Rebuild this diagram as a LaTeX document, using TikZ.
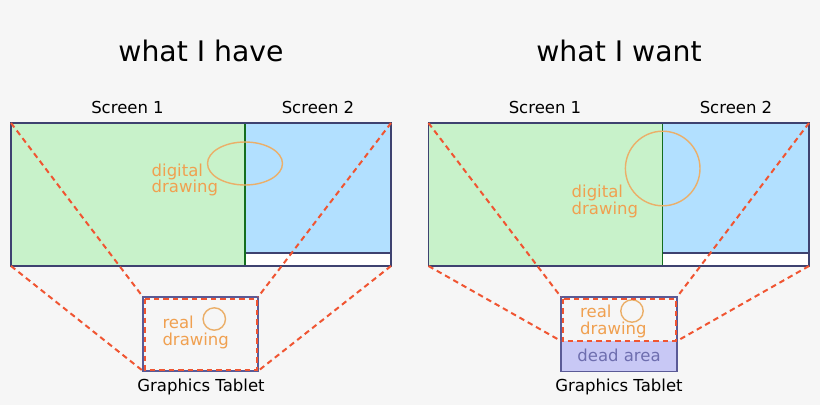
\documentclass[tikz,border=0pt]{standalone}
\usepackage{fontspec}
\setmainfont{DejaVu Sans}
\definecolor{bg}{RGB}{246,246,246}
\definecolor{scrgreen}{RGB}{200,242,202}
\definecolor{scrblue}{RGB}{178,224,255}
\definecolor{frame}{RGB}{62,66,112}
\definecolor{divgreen}{RGB}{20,110,30}
\definecolor{tabframe}{RGB}{90,90,150}
\definecolor{orng}{RGB}{240,160,80}
\definecolor{orngline}{RGB}{235,175,105}
\definecolor{reddash}{RGB}{240,85,50}
\definecolor{deadfill}{RGB}{200,200,245}
\definecolor{deadtext}{RGB}{110,110,175}
\tikzset{
  title/.style={font=\fontsize{28.3}{30}\selectfont, anchor=base, inner sep=0},
  lbl/.style={font=\fontsize{16.5}{18}\selectfont, anchor=base, inner sep=0},
  olbl/.style={font=\fontsize{16.5}{18}\selectfont, anchor=base west, inner sep=0, text=orng},
  frameline/.style={draw=frame, line width=1.7pt},
  proj/.style={draw=reddash, line width=2pt, dash pattern=on 5.5pt off 4pt},
  sketch/.style={draw=orngline, line width=1.4pt},
}
\begin{document}
\begin{tikzpicture}[x=1pt,y=-1pt]
\fill[bg] (0,0) rectangle (820,405);
\useasboundingbox (0,0) rectangle (820,405);

% ---------- left panel ----------
\node[title] (t1) at (201,61) {what I have};
\node[lbl] (l1s1) at (127.5,113) {Screen 1};
\node[lbl] (l1s2) at (318,113) {Screen 2};

\coordinate (LTL) at (11,123);
\coordinate (LTR) at (391,123);
\coordinate (LBL) at (11,266);
\coordinate (LBR) at (391,266);
\fill[scrgreen] (11,123) rectangle (245,266);
\fill[scrblue] (245,123) rectangle (391,253);
\fill[white] (245,253) rectangle (391,266);
\draw[frameline] (245,253) -- (391,253);
\draw[frameline] (LTL) rectangle (LBR);
\draw[divgreen, line width=1.6pt] (245,124) -- (245,265);
\draw[sketch] (245,163.5) ellipse [x radius=37.5, y radius=21.5];
\node[olbl] (ld1) at (151.5,176) {digital};
\node[olbl] (ld2) at (151.5,192.5) {drawing};

% tablet
\coordinate (TTL) at (143,297);
\coordinate (TTR) at (258,297);
\coordinate (TBL) at (143,371);
\coordinate (TBR) at (258,371);
\draw[draw=tabframe, line width=1.6pt] (TTL) rectangle (TBR);
\draw[sketch] (214.3,319) circle [radius=11.2];
\node[olbl] (lr1) at (162.3,328.3) {real};
\node[olbl] (lr2) at (162.3,345) {drawing};
\node[lbl] (lgt) at (201,391.5) {Graphics Tablet};
\draw[proj] (144.5,298.5) rectangle (256.5,369.5);
\draw[proj] (LTL) -- (TTL);
\draw[proj] (LTR) -- (TTR);
\draw[proj] (LBL) -- (TBL);
\draw[proj] (LBR) -- (TBR);

% ---------- right panel ----------
\node[title] (t2) at (619,61) {what I want};
\node[lbl] (r1s1) at (545,113) {Screen 1};
\node[lbl] (r1s2) at (736,113) {Screen 2};

\coordinate (RTL) at (428.5,123);
\coordinate (RTR) at (809,123);
\coordinate (RBL) at (428.5,266);
\coordinate (RBR) at (809,266);
\fill[scrgreen] (428.5,123) rectangle (662.5,266);
\fill[scrblue] (662.5,123) rectangle (809,253);
\fill[white] (662.5,253) rectangle (809,266);
\draw[frameline] (662.5,253) -- (809,253);
\draw[frameline] (RTL) rectangle (RBR);
\draw[divgreen, line width=1.6pt] (662.5,124) -- (662.5,265);
\draw[sketch] (662.7,168.5) circle [radius=37.3];
\node[olbl] (rd1) at (571.5,197.3) {digital};
\node[olbl] (rd2) at (571.5,214) {drawing};

% tablet
\coordinate (UTL) at (561,297);
\coordinate (UTR) at (677,297);
\coordinate (UML) at (561,341);
\coordinate (UMR) at (677,341);
\coordinate (UBR) at (677,371.5);
\fill[deadfill] (UML) rectangle (UBR);
\draw[draw=tabframe, line width=1.6pt] (UTL) rectangle (UBR);
\node[font=\fontsize{16.5}{18}\selectfont, anchor=base, inner sep=0, text=deadtext] (dead) at (619,361) {dead area};
\draw[sketch] (632,311) circle [radius=11.2];
\node[olbl] (rr1) at (580,317.3) {real};
\node[olbl] (rr2) at (580,334.3) {drawing};
\node[lbl] (rgt) at (619,391.5) {Graphics Tablet};
\draw[proj] (562.5,298.5) rectangle (675.5,341);
\draw[proj] (RTL) -- (UTL);
\draw[proj] (RTR) -- (UTR);
\draw[proj] (RBL) -- (UML);
\draw[proj] (RBR) -- (UMR);
\end{tikzpicture}
\end{document}
